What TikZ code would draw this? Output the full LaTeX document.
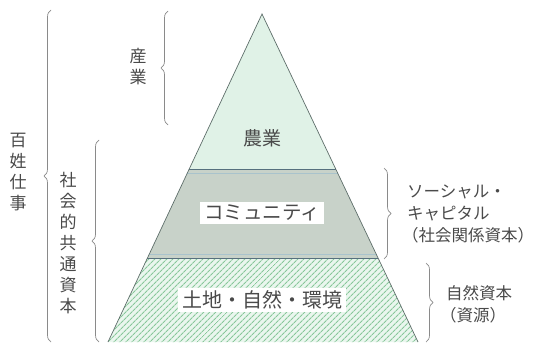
\documentclass[tikz,border=0pt]{standalone}
\usepackage{fontspec}
\setmainfont{Noto Sans CJK JP}
\usetikzlibrary{decorations.pathreplacing,patterns.meta,calc}
\definecolor{txt}{HTML}{4A4A4A}
\definecolor{topfill}{HTML}{E0F2E7}
\definecolor{comfill}{HTML}{C8D2C9}
\definecolor{botfill}{HTML}{EAF6EE}
\definecolor{hatch}{HTML}{88C79A}
\definecolor{edge}{HTML}{5E6E6A}
\definecolor{bandline}{HTML}{56707E}
\definecolor{bandlight}{HTML}{A9C3CC}
\definecolor{bracec}{HTML}{8A8A8A}
\tikzset{
  bracestyle/.style={draw=bracec, line width=0.7pt, decorate, decoration={brace, amplitude=7pt}},
  vtext/.style={text=txt, align=center, inner sep=0pt, font=\fontsize{17}{21}\selectfont},
  rtext/.style={text=txt, align=left, anchor=west, inner sep=0pt, font=\fontsize{16.5}{22}\selectfont},
  boxtext/.style={fill=white, text=txt, inner xsep=4pt, inner ysep=3pt}
}
\begin{document}
\begin{tikzpicture}[x=1pt,y=-1pt]
\useasboundingbox (0,0) rectangle (537,342);
\coordinate (A) at (262,14);
\coordinate (BL) at (108,342);
\coordinate (BR) at (418,342);
\coordinate (L1) at ($(A)!0.4756!(BL)$);
\coordinate (R1) at ($(A)!0.4756!(BR)$);
\coordinate (L2) at ($(A)!0.7439!(BL)$);
\coordinate (R2) at ($(A)!0.7439!(BR)$);
% bands
\fill[topfill] (A) -- (R1) -- (L1) -- cycle;
\fill[comfill] (L1) -- (R1) -- (R2) -- (L2) -- cycle;
\fill[botfill] (L2) -- (R2) -- (BR) -- (BL) -- cycle;
\fill[pattern={Lines[angle=45,distance=4pt,line width=1.1pt]}, pattern color=hatch] (L2) -- (R2) -- (BR) -- (BL) -- cycle;
% band lines
\draw[bandline, line width=1pt] (L1) -- (R1);
\draw[bandlight, line width=1pt] ($(L1)+(-1.5,3.5)$) -- ($(R1)+(1.5,3.5)$);
\draw[bandlight, line width=1pt] ($(L2)+(1.5,-4)$) -- ($(R2)+(-1.5,-4)$);
\draw[bandline, line width=0.8pt] (L2) -- (R2);
% outline
\draw[edge, line width=0.7pt] (BL) -- (A) -- (BR);
% pyramid texts
\node[text=txt, font=\fontsize{19}{22}\selectfont, inner sep=0pt] (agri) at (262,138) {農業};
\node[boxtext, font=\fontsize{19.5}{22}\selectfont] (comm) at (262,213) {コミュニティ};
\node[boxtext, font=\fontsize{20}{22}\selectfont] (land) at (262,300) {土地・自然・環境};
% left braces
\coordinate (b1s) at (168,125); \coordinate (b1e) at (168,11);
\draw[bracestyle] (b1s) -- (b1e);
\node[vtext] (sangyo) at (138,67) {産\\業};
\coordinate (b2s) at (51,342); \coordinate (b2e) at (51,10);
\draw[bracestyle] (b2s) -- (b2e);
\node[vtext] (hyakusho) at (18,172) {百\\姓\\仕\\事};
\coordinate (b3s) at (99,342); \coordinate (b3e) at (99,140);
\draw[bracestyle] (b3s) -- (b3e);
\node[vtext] (shakai) at (68,243) {社\\会\\的\\共\\通\\資\\本};
% right braces
\coordinate (b4s) at (384,168); \coordinate (b4e) at (384,259);
\draw[bracestyle] (b4s) -- (b4e);
\node[rtext] (social) at (402,214) {\hspace{5pt}ソーシャル・\\\hspace{5pt}キャピタル\\（社会関係資本）};
\coordinate (b5s) at (426,263); \coordinate (b5e) at (426,342);
\draw[bracestyle] (b5s) -- (b5e);
\node[rtext] (natural) at (440,304) {\hspace{6pt}自然資本\\（資源）};
\end{tikzpicture}
\end{document}
